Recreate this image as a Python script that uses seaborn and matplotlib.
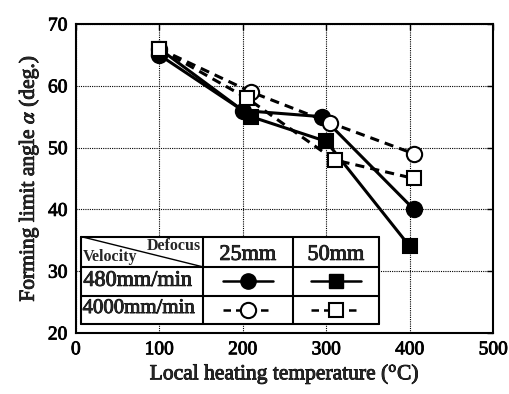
import matplotlib
matplotlib.use("Agg")
import matplotlib.pyplot as plt
import matplotlib.patheffects as pe
import seaborn as sns
import pandas as pd

# ---- data ----
temp_480_25 = [100, 200, 295, 405]
angle_480_25 = [65, 56, 55, 40]
temp_480_50 = [100, 210, 300, 400]
angle_480_50 = [66, 55, 51, 34]
temp_4000_25 = [100, 210, 305, 405]
angle_4000_25 = [66, 59, 54, 49]
temp_4000_50 = [100, 205, 310, 405]
angle_4000_50 = [66, 58, 48, 45]

x_ticks = [0, 100, 200, 300, 400, 500]
y_ticks = [20, 30, 40, 50, 60, 70]
row_labels = ["480mm/min", "4000mm/min"]
col_labels = ["25mm", "50mm"]

sns.set_theme(style="white")
plt.rcParams["font.family"] = ["Liberation Serif", "DejaVu Serif"]
plt.rcParams["mathtext.fontset"] = "stix"

thick = [pe.withStroke(linewidth=0.6, foreground="black")]

fig = plt.figure(figsize=(5.09, 3.94), dpi=100)
ax = fig.add_axes([0.149, 0.155, 0.820, 0.784])

series = [
    (temp_480_25, angle_480_25, "o", "black", "-"),
    (temp_480_50, angle_480_50, "s", "black", "-"),
    (temp_4000_25, angle_4000_25, "o", "white", (0, (3, 2))),
    (temp_4000_50, angle_4000_50, "s", "white", (0, (3, 2))),
]
for xs, ys, mk, fc, ls in series:
    df = pd.DataFrame({"x": xs, "y": ys})
    sns.lineplot(data=df, x="x", y="y", ax=ax, color="black", linewidth=2.2,
                 linestyle=ls, marker=mk, markersize=11 if mk == "o" else 10,
                 markerfacecolor=fc, markeredgecolor="black", markeredgewidth=1.5,
                 sort=False)

ax.set_xlim(0, 500)
ax.set_ylim(20, 70)
ax.set_xticks(x_ticks)
ax.set_yticks(y_ticks)
ax.grid(True, color="black", linestyle=(0, (1, 1)), linewidth=0.8)
for s in ax.spines.values():
    s.set_color("black")
    s.set_linewidth(1.5)
ax.tick_params(direction="in", length=4, width=1, colors="black", labelsize=14,
               top=True, right=True, pad=6)
for lab in ax.get_xticklabels() + ax.get_yticklabels():
    lab.set_path_effects(thick)
ax.set_xlabel(r"Local heating temperature ($^{\mathrm{o}}$C)", fontsize=15.5,
              labelpad=3, path_effects=thick)
ax.set_ylabel(r"Forming limit angle $\alpha$ (deg.)", fontsize=15.5,
              labelpad=5, path_effects=thick)

# ---- table legend ----
x0, x1, x2, x3 = 6, 152, 260, 363
ya, yb, yc, yd = 35.6, 30.7, 26.0, 21.5
ax.fill_between([x0, x3], yd, ya, color="white", zorder=5)
lk = dict(color="black", linewidth=1.5, zorder=6, clip_on=False)
for y in [ya, yb, yc, yd]:
    ax.plot([x0, x3], [y, y], **lk)
for x in [x0, x1, x2, x3]:
    ax.plot([x, x], [yd, ya], **lk)
ax.plot([x0, x1], [ya, yb], color="black", linewidth=1.0, zorder=6)
ax.text(x1 - 2, ya - 0.3, "Defocus", ha="right", va="top", fontsize=11.5,
        fontweight="bold", zorder=7)
ax.text(x0 + 2, yb + 0.3, "Velocity", ha="left", va="bottom", fontsize=11.5,
        fontweight="bold", zorder=7)
for xl, xr, lab in [(x1, x2, col_labels[0]), (x2, x3, col_labels[1])]:
    ax.text((xl + xr) / 2, (ya + yb) / 2 - 0.6, lab, ha="center", va="center",
            fontsize=16, zorder=7, path_effects=thick)
ax.text(x0 + 3, (yb + yc) / 2, row_labels[0], ha="left", va="center",
        fontsize=16, zorder=7, path_effects=thick)
ax.text(x0 + 2, (yc + yd) / 2 + 0.2, row_labels[1], ha="left", va="center",
        fontsize=15, zorder=7, path_effects=thick)
for (xl, xr), mk in zip([(x1, x2), (x2, x3)], ["o", "s"]):
    xm = (xl + xr) / 2
    ym1 = (yb + yc) / 2
    ym2 = (yc + yd) / 2
    ax.plot([xm - 30, xm + 30], [ym1, ym1], color="black", linewidth=1.8, zorder=7)
    ax.plot([xm], [ym1], marker=mk, markersize=11 if mk == "o" else 10,
            color="black", zorder=8)
    ax.plot([xm - 30, xm + 30], [ym2, ym2], color="black", linewidth=1.8,
            linestyle=(0, (3, 2)), zorder=7)
    ax.plot([xm], [ym2], marker=mk, markersize=11 if mk == "o" else 10,
            markerfacecolor="white", markeredgecolor="black", markeredgewidth=1.5,
            zorder=8)

fig.savefig("out.png", dpi=100)
